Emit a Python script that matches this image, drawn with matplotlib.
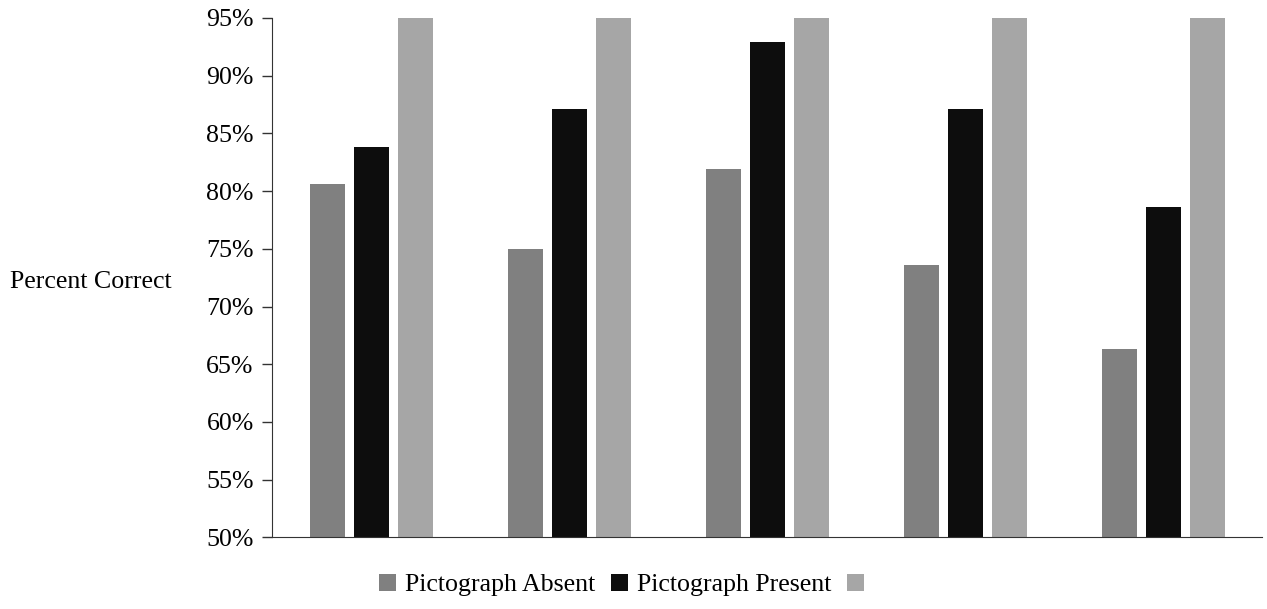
import matplotlib
matplotlib.use("Agg")
import matplotlib.pyplot as plt
import numpy as np
from matplotlib.patches import Patch

plt.rcParams["font.family"] = ["Liberation Serif", "DejaVu Serif"]

# values in percent
groups = ["1", "2", "3", "4", "5"]
absent = [80.6, 75.0, 81.9, 73.6, 66.3]
present = [83.8, 87.1, 92.9, 87.1, 78.6]
third = [98.0, 98.0, 98.0, 98.0, 98.0]  # clipped at the top of the axis
series_labels = ["Pictograph Absent", "Pictograph Present", ""]
colors = ["#808080", "#0d0d0d", "#a6a6a6"]
yticks = [50, 55, 60, 65, 70, 75, 80, 85, 90, 95]

FS = 18.6

fig = plt.figure(figsize=(12.67, 6.09), dpi=100)
ax = fig.add_axes([272 / 1267, 1 - 537.3 / 609, 990 / 1267, 519.3 / 609])

x = np.arange(len(groups))
w = 35 / 198
off = 44 / 198
for i, (vals, c) in enumerate(zip([absent, present, third], colors)):
    ax.bar(x + (i - 1) * off, vals, width=w, color=c, bottom=0)

ax.set_xlim(-0.5, len(groups) - 0.5)
ax.set_ylim(50, 95)
ax.set_yticks(yticks)
ax.set_yticklabels([f"{t}%" for t in yticks], fontsize=FS)
ax.set_xticks([])
for s in ["top", "right"]:
    ax.spines[s].set_visible(False)
ax.spines["left"].set_color("#333333")
ax.spines["bottom"].set_color("#333333")
ax.tick_params(axis="y", direction="out", length=7.2, width=1, color="#333333", pad=6)

fig.text(10 / 1267, 1 - 282 / 609, "Percent Correct", fontsize=FS, va="center", ha="left")

handles = [Patch(facecolor=c, edgecolor="none") for c in colors]
fig.legend(handles, series_labels, loc="center", bbox_to_anchor=(626 / 1267, 1 - 585 / 609),
           ncol=3, frameon=False, fontsize=FS, handlelength=0.65, handleheight=0.65,
           handletextpad=0.35, columnspacing=0.6)

fig.savefig("out.png", dpi=100)
